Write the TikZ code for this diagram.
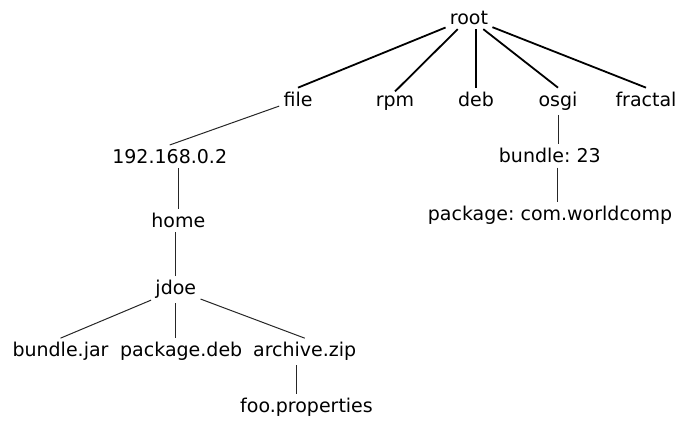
\documentclass[tikz,border=0pt]{standalone}
\usepackage{fontspec}
\setmainfont{DejaVu Sans}
\usetikzlibrary{positioning}

\begin{document}
\frenchspacing
\begin{tikzpicture}[
            x=0.5pt, y=-0.5pt,
            font=\fontsize{9.5}{11}\selectfont,
            item/.style={inner sep=2pt, anchor=base},
            link/.style={line width=0.9pt},
            sublink/.style={line width=0.5pt, black!85}
        ]
        \useasboundingbox (0,0) rectangle (686,422);
        % top level
        \node[item] (root) at (469,24.5) {root};
        \node[item] (file) at (298,106.5) {file};
        \node[item] (rpm) at (395,106.5) {rpm};
        \node[item] (deb) at (476,106.5) {deb};
        \node[item] (osgi) at (558,106.5) {osgi};
        \node[item] (fractal) at (646,106.5) {fractal};
        % file branch
        \node[item] (ip) at (169.7,163.5) {192.168.0.2};
        \node[item] (home) at (178.3,227.5) {home};
        \node[item] (jdoe) at (175.8,295) {jdoe};
        \node[item] (jar) at (60.5,357) {bundle.jar};
        \node[item] (pkgdeb) at (181.2,357) {package.deb};
        \node[item] (archive) at (304.7,357) {archive.zip};
        \node[item] (props) at (306.5,412.5) {foo.properties};
        % osgi branch
        \node[item] (bundle) at (549.8,163) {bundle: 23};
        \node[item] (worldcomp) at (550,221) {package: com.worldcomp};
        \draw[link] (root) -- (file.north);
        \draw[link] (root) -- (rpm.north);
        \draw[link] (root.south -| deb) -- (deb.north);
        \draw[link] (root) -- (osgi.north);
        \draw[link] (root) -- (fractal.north);
        \draw[sublink] (file) -- (ip.north);
        \draw[sublink] (home.north) -- (home.north |- ip.south);
        \draw[sublink] (jdoe.north) -- (jdoe.north |- home.south);
        \draw[sublink] (jdoe) -- (jar.north);
        \draw[sublink] (jdoe.south) -- (jdoe.south |- pkgdeb.north);
        \draw[sublink] (jdoe) -- (archive.north);
        \draw[sublink] ([xshift=-4pt]archive.south) -- ([xshift=-4pt]archive.south |- props.north);
        \draw[sublink] (osgi.south) -- (osgi.south |- bundle.north);
        \draw[sublink] ([xshift=4pt]bundle.south) -- ([xshift=4pt]bundle.south |- worldcomp.north);
        \end{tikzpicture}
\end{document}
